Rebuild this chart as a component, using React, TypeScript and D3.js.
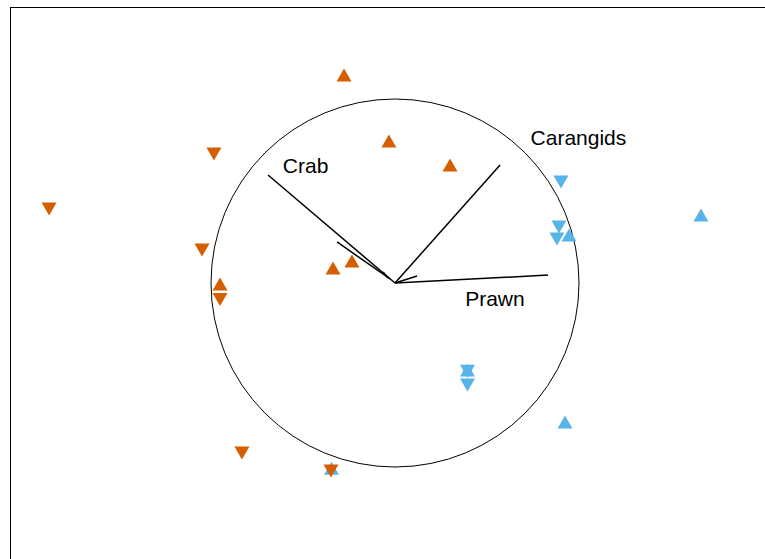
import * as d3 from "d3";
import { useEffect, useRef } from "react";

// site scores (ordination units, circle radius = 1)
const orangeUp: [number, number][] = [
  [-0.277, 1.13], [-0.033, 0.772], [0.299, 0.641], [-0.234, 0.12], [-0.337, 0.082], [-0.951, -0.005],
];
const orangeDown: [number, number][] = [
  [-0.984, 0.701], [-1.88, 0.402], [-1.049, 0.179], [-0.951, -0.09], [-0.832, -0.924], [-0.348, -1.022],
];
const blueUp: [number, number][] = [
  [1.663, 0.37], [0.946, 0.261], [0.394, -0.473], [0.924, -0.755], [-0.345, -1.007],
];
const blueDown: [number, number][] = [
  [0.902, 0.549], [0.891, 0.304], [0.88, 0.239], [0.394, -0.479], [0.394, -0.554],
];

// species vectors
const vectorNames = ["Crab", "Carangids", "Prawn"];
const vectorEnds: [number, number][] = [[-0.69, 0.587], [0.571, 0.641], [0.832, 0.043]];
const labelPos: [number, number][] = [[-0.486, 0.641], [0.997, 0.793], [0.543, -0.082]];
// extra short segments near origin
const extraSegs: [[number, number], [number, number]][] = [
  [[-0.315, 0.223], [-0.027, 0.022]],
  [[0, 0], [0.12, 0.038]],
  [[-0.065, 0.06], [-0.038, 0.027]],
];

const ORANGE = "#D55E00";
const BLUE = "#56B4E9";

const App = () => {
  const svgRef = useRef<SVGSVGElement | null>(null);

  useEffect(() => {
    const svg = d3.select(svgRef.current);
    svg.selectAll("*").remove();

    const x = d3.scaleLinear().domain([-1, 1]).range([211, 579]);
    const y = d3.scaleLinear().domain([-1, 1]).range([467, 99]);

    // frame
    svg.append("rect")
      .attr("x", 10.5).attr("y", 7.5)
      .attr("width", 800).attr("height", 600)
      .attr("fill", "none").attr("stroke", "#000").attr("stroke-width", 1);

    // circle of equilibrium contribution
    svg.append("circle")
      .attr("cx", x(0)).attr("cy", y(0))
      .attr("r", x(1) - x(0))
      .attr("fill", "none").attr("stroke", "#000").attr("stroke-width", 1);

    const up = (cx: number, cy: number) =>
      `M${cx},${cy - 6.5}L${cx + 7.5},${cy + 6.5}L${cx - 7.5},${cy + 6.5}Z`;
    const down = (cx: number, cy: number) =>
      `M${cx - 7.5},${cy - 6.5}L${cx + 7.5},${cy - 6.5}L${cx},${cy + 6.5}Z`;

    const drawSet = (pts: [number, number][], fn: typeof up, col: string) => {
      svg.append("g").selectAll("path").data(pts).join("path")
        .attr("d", (d) => fn(x(d[0]), y(d[1])))
        .attr("fill", col);
    };
    drawSet(blueUp, up, BLUE);
    drawSet(blueDown, down, BLUE);
    drawSet(orangeUp, up, ORANGE);
    drawSet(orangeDown, down, ORANGE);

    const lines = svg.append("g").attr("stroke", "#000").attr("stroke-width", 1.5);
    lines.selectAll("line.v").data(vectorEnds).join("line")
      .attr("x1", x(0)).attr("y1", y(0))
      .attr("x2", (d) => x(d[0])).attr("y2", (d) => y(d[1]));
    lines.selectAll("line.e").data(extraSegs).enter().append("line")
      .attr("x1", (d) => x(d[0][0])).attr("y1", (d) => y(d[0][1]))
      .attr("x2", (d) => x(d[1][0])).attr("y2", (d) => y(d[1][1]));

    svg.append("g").selectAll("text").data(vectorNames).join("text")
      .attr("x", (_, i) => x(labelPos[i][0]))
      .attr("y", (_, i) => y(labelPos[i][1]))
      .attr("text-anchor", "middle")
      .attr("dominant-baseline", "central")
      .attr("font-family", "Liberation Sans, Arial, sans-serif")
      .attr("font-size", 21)
      .attr("fill", "#000")
      .text((d) => d);
  }, []);

  return (
    <svg
      ref={svgRef}
      width={765}
      height={559}
      style={{ position: "absolute", left: 0, top: 0, background: "#fff" }}
    />
  );
};

export default App;
